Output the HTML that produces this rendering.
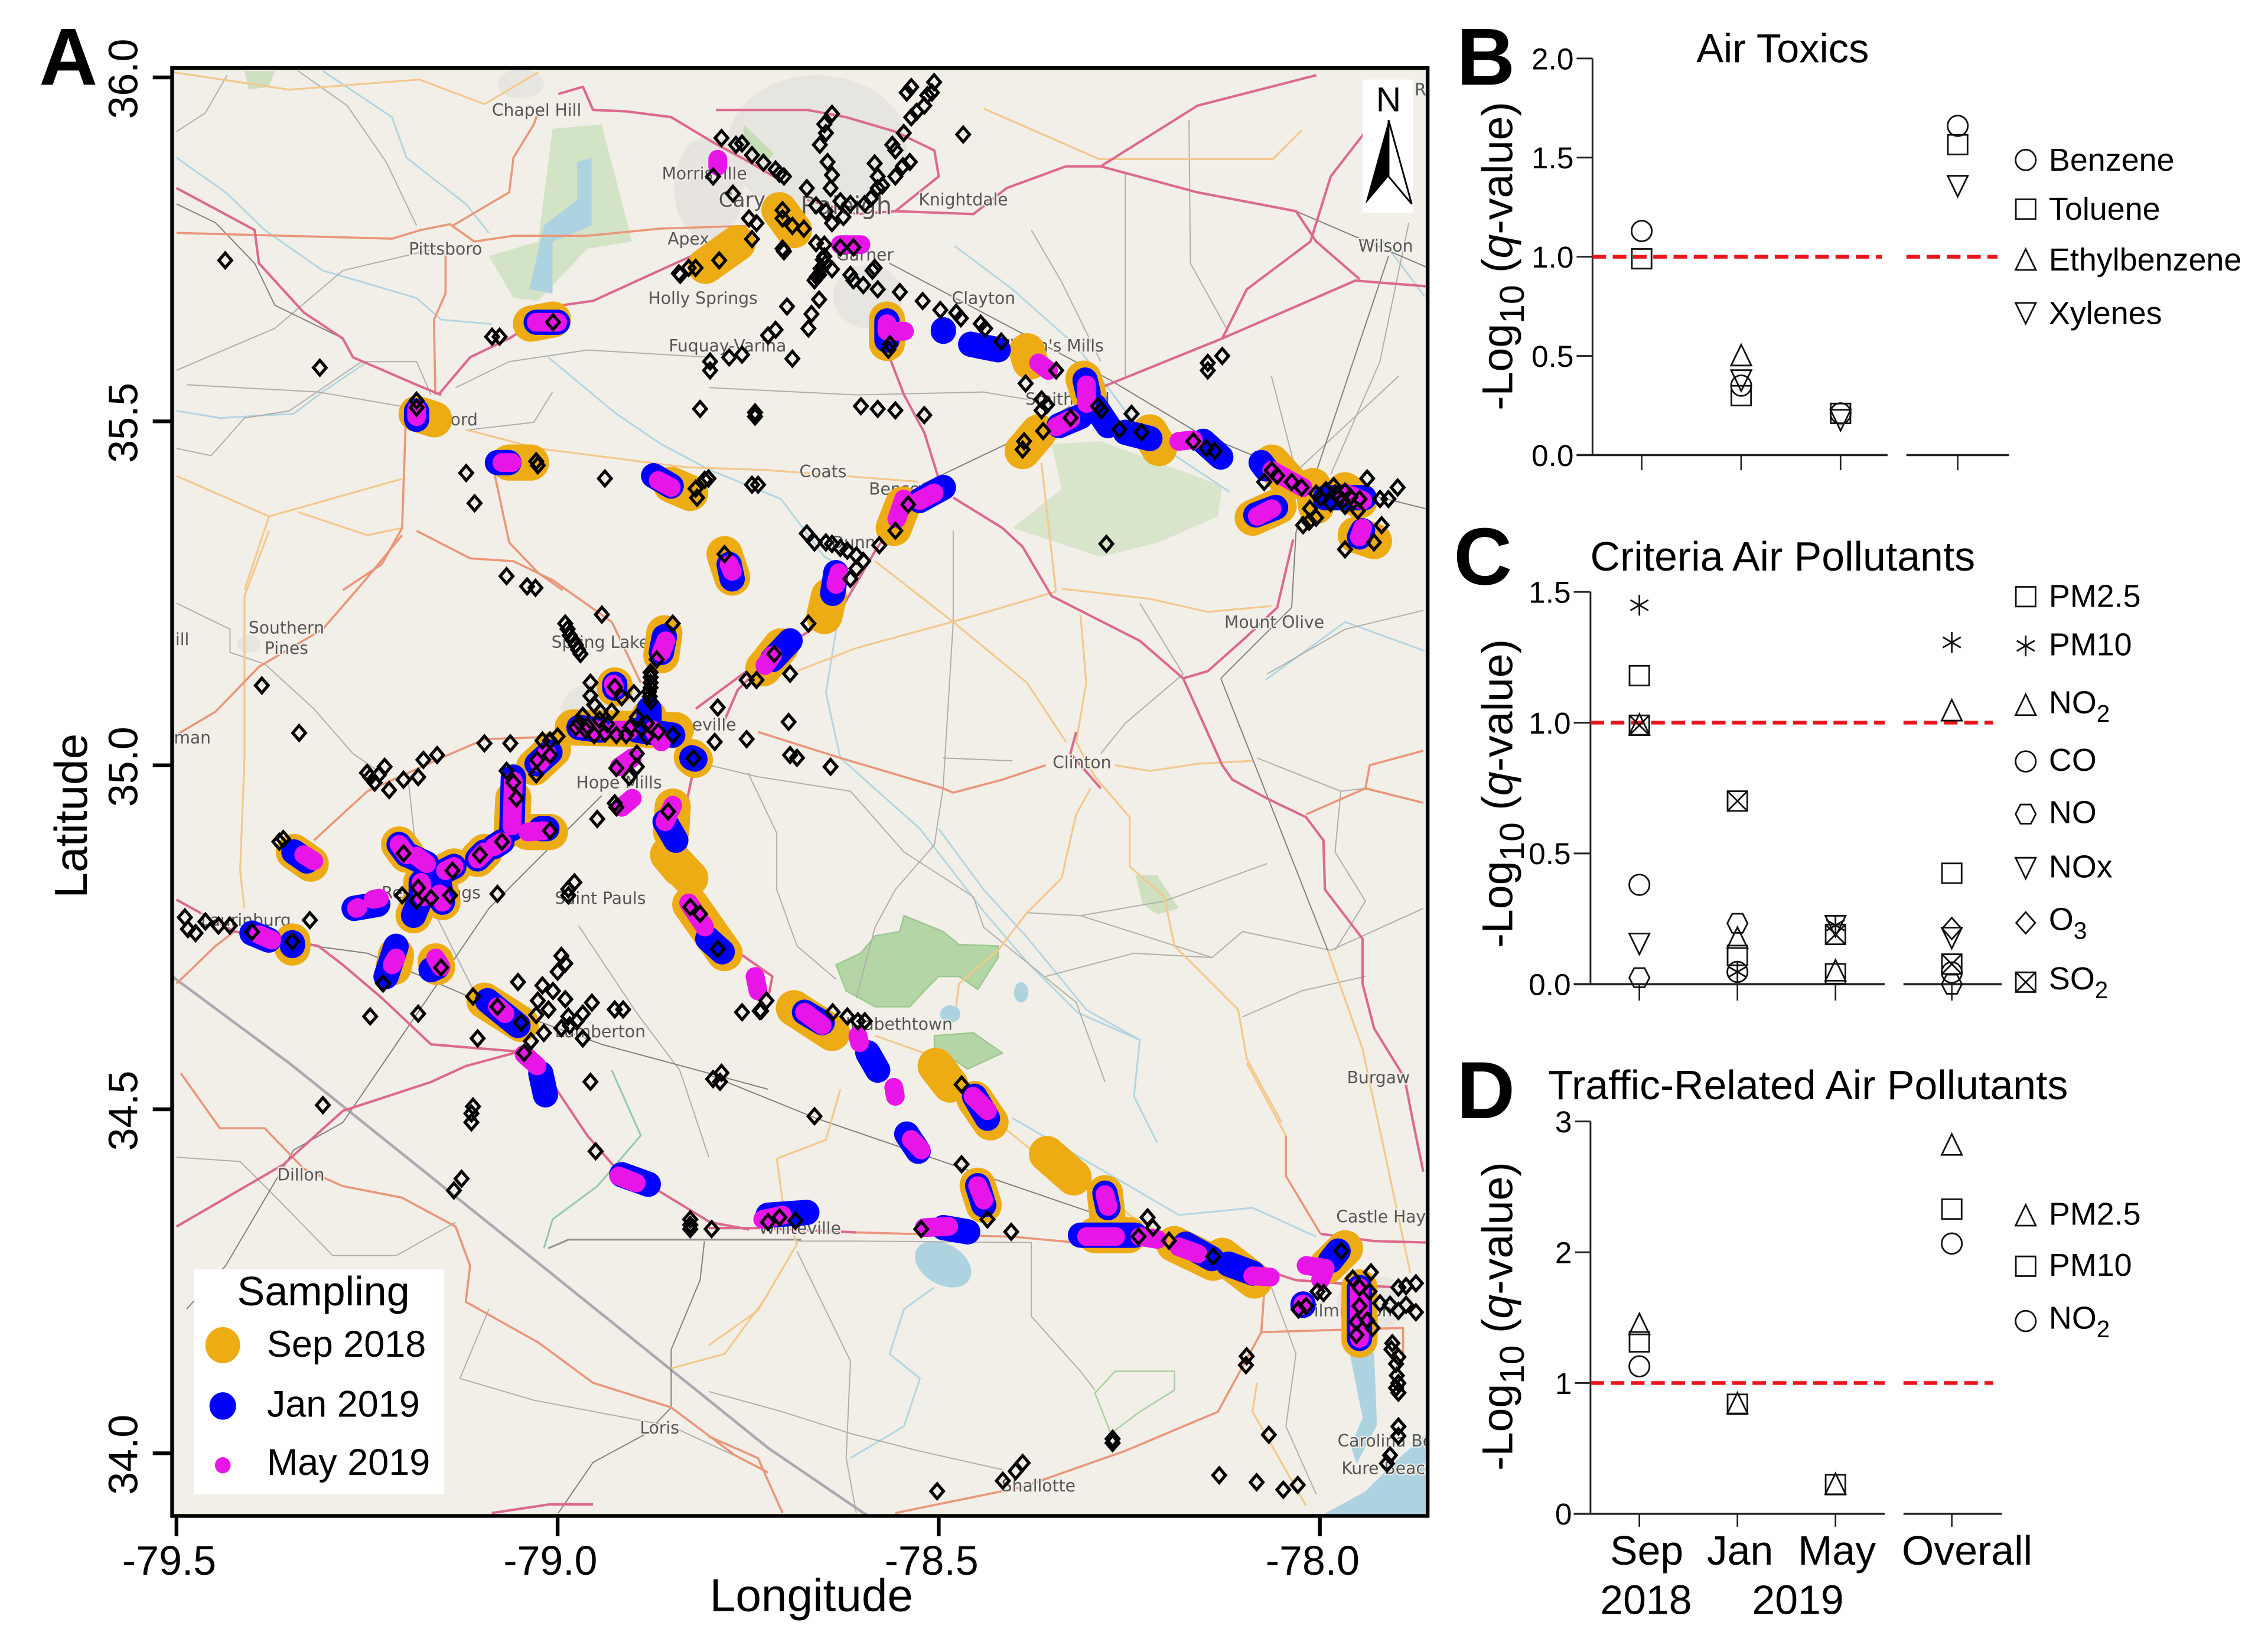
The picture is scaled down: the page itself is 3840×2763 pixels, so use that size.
<!DOCTYPE html>
<html lang="en">
<head>
<meta charset="utf-8">
<title>Air pollutant sampling map and q-value panels</title>
<style>
html,body{margin:0;padding:0;background:#fff}
svg{display:block;font-family:"Liberation Sans",sans-serif}
.m{fill:none;stroke:#dc6a8e;stroke-width:1.7;stroke-linejoin:round}
.o{fill:none;stroke:#e9977a;stroke-width:1.5;stroke-linejoin:round}
.y{fill:none;stroke:#f3c88c;stroke-width:1.3;stroke-linejoin:round}
.g{fill:none;stroke:#aeaeaa;stroke-width:.8;stroke-linejoin:round}
.r{fill:none;stroke:#82807c;stroke-width:.8;stroke-linejoin:round}
.b{fill:none;stroke:#aca9b0;stroke-width:1.9}
.w{fill:none;stroke:#b3d5e0;stroke-width:1.2;stroke-linejoin:round}
.t{fill:none;stroke:#93c6b0;stroke-width:1.2;stroke-linejoin:round}
.pl{font-family:"DejaVu Sans",sans-serif;font-size:11.5px;fill:#555;text-anchor:middle;paint-order:stroke;stroke:#f2efe9;stroke-width:1.6px}
</style>
</head>
<body>
<svg id="figure" xmlns="http://www.w3.org/2000/svg" width="3840" height="2763" viewBox="0 0 1568 1128.25">
<rect width="1568" height="1128.25" fill="#fff"/>
<clipPath id="mapClip"><rect x="119" y="47" width="868" height="1001"/></clipPath>

<g id="mapPanel">
<g clip-path="url(#mapClip)">
<rect x="119" y="47" width="868" height="1001" fill="#f2efe9"/>
<g fill="#d9d7d3" opacity=".42">
<ellipse cx="565" cy="100" rx="62" ry="48"/>
<ellipse cx="490" cy="130" rx="24" ry="36"/>
<ellipse cx="360" cy="58" rx="16" ry="10"/>
<ellipse cx="600" cy="205" rx="24" ry="22"/>
<ellipse cx="420" cy="490" rx="32" ry="20"/>
<ellipse cx="172" cy="445" rx="8" ry="6"/>
<ellipse cx="950" cy="900" rx="26" ry="18"/>
</g>
<g>
<polygon fill="#d3e3c6" points="382,89 416,86 437,167 406,172 372,208 355,206 338,177 372,167"/>
<polygon fill="#d8e5cb" points="727,307 761,305 845,336 842,357 801,375 761,385 700,365 734,338"/>
<polygon fill="#b4d6a6" stroke="#9cc78f" points="625,633 652,644 663,653 690,654 690,662 676,684 663,675 649,675 639,685 629,696 605,696 585,685 578,667 595,659 605,647 622,644"/>
<polygon fill="#b4d6a6" stroke="#9cc78f" points="646,716 673,714 693,728 669,739 646,724"/>
<polygon fill="#c5dcb5" points="514,86 535,106 530,112 514,100"/>
<polygon fill="#cfe0c0" points="169,49 190,49 186,60 172,62"/>
<polygon fill="#cfe0c0" points="785,605 800,605 815,628 800,632 790,625"/>
<polygon fill="none" stroke="#a9cf9d" stroke-width="1" points="757,963 771,948 812,948 812,961 788,976 768,991"/>
</g>
<g fill="#aed3e0">
<polygon points="399,112 409,109 409,156 382,167 382,203 366,200 376,156 399,138"/>
<ellipse cx="652" cy="874" rx="21" ry="14" transform="rotate(30 652 874)"/>
<ellipse cx="706" cy="686" rx="5" ry="7"/>
<ellipse cx="657" cy="701" rx="7" ry="6"/>
<polygon points="913,1048 944,1031 964,1011 990,988 990,1048"/>
<polygon points="933,935 950,935 952,985 938,1012 934,1000 942,980"/>
</g>
<g>
<polyline class="w" points="122,109 156,133 183,159 223,187 288,206 305,221 340,224"/>
<polyline class="w" points="223,49 271,81 281,109 322,141 338,161"/>
<polyline class="w" points="122,284 152,289 203,286 223,271 254,250"/>
<polyline class="w" points="379,247 426,286 457,307 491,325 540,345 570,385 585,393 571,479 581,524 636,573 680,630 710,665 745,700 788,719 784,758 800,790"/>
<polyline class="w" points="649,573 680,615 710,648 751,698 788,719"/>
<polyline class="w" points="646,890 625,905 615,936 636,953 625,986 588,1008"/>
<polyline class="w" points="700,773 781,820 815,840 866,835 910,855"/>
<polyline class="w" points="660,170 700,200 745,240 790,300 850,340"/>
<polyline class="w" points="955,165 985,205"/>
<polyline class="w" points="875,470 930,430 985,450"/>
<polyline class="t" points="376,863 382,843 413,820 443,785 423,740"/>
</g>
<g>
<polyline class="g" points="206,49 240,73 267,112 288,156"/>
<polyline class="g" points="157,52 142,78 122,91"/>
<polyline class="g" points="122,256 190,227 237,187 301,172"/>
<polyline class="g" points="122,310 146,315 169,289 200,284 250,250 288,250 298,273"/>
<polyline class="g" points="129,266 220,271 278,281"/>
<polyline class="g" points="315,268 352,250 406,242 491,247"/>
<polyline class="g" points="382,271 369,292 325,297"/>
<polyline class="g" points="490,268 592,273 680,271 727,279"/>
<polyline class="g" points="778,120 778,260"/>
<polyline class="g" points="822,83 823,182 849,229"/>
<polyline class="g" points="713,159 734,195 761,250"/>
<polyline class="g" points="879,260 896,326 967,260"/>
<polyline class="g" points="920,328 954,250 974,154"/>
<polyline class="g" points="659,367 659,430 652,545 646,584 619,615 605,641 592,690"/>
<polyline class="g" points="517,534 537,576 537,615 551,654 578,677"/>
<polyline class="g" points="490,529 524,537 588,547 625,589 673,620 680,641 744,693 764,748"/>
<polyline class="g" points="652,524 700,526"/>
<polyline class="g" points="710,631 747,633 805,623 876,597"/>
<polyline class="g" points="747,633 838,662 859,644 920,657 984,628"/>
<polyline class="g" points="723,675 784,659 838,662"/>
<polyline class="g" points="859,703 900,685 944,675"/>
<polyline class="g" points="869,524 927,547 944,545"/>
<polyline class="g" points="927,547 923,589 944,623 923,657"/>
<polyline class="g" points="788,417 818,466 778,500 761,521"/>
<polyline class="g" points="876,466 930,435 984,422"/>
<polyline class="g" points="122,800 166,803 193,830 230,868 274,868 315,845"/>
<polyline class="g" points="338,905 318,953 369,968 464,986 518,1011"/>
<polyline class="g" points="551,865 588,941 585,1008 592,1046"/>
<polyline class="g" points="490,962 541,976 588,991 635,1003 693,1016"/>
<polyline class="g" points="551,858 592,858 713,859 713,910 747,948 757,961"/>
<polyline class="g" points="879,890 896,936 889,986 910,1033"/>
<polyline class="g" points="122,417 159,435 159,451 183,459 217,490 244,521 267,537"/>
<polyline class="g" points="282,537 290,610 330,690"/>
<polyline class="g" points="400,640 440,700 470,740 490,800"/>
</g>
<g>
<polyline class="b" points="119,675 200,735 372,873 531,1001 600,1048"/>
<polyline class="b" style="stroke-width:1.2;stroke:#8f8f8c" points="379,863 393,857 531,857 554,857"/>
</g>
<g>
<polyline class="r" points="531,753 416,722 372,706 322,688 254,659 217,654"/>
<polyline class="r" points="490,743 564,773 754,838"/>
<polyline class="r" points="416,550 338,628 237,776 203,795 156,875 129,905"/>
<polyline class="r" points="122,141 149,154 176,182 190,211 237,234"/>
<polyline class="r" points="615,182 700,227 768,263 828,299 910,333 987,352"/>
<polyline class="r" points="844,469 876,550 918,657"/>
<polyline class="r" points="844,469 893,420 896,368 960,177"/>
<polyline class="r" points="464,933 484,885 487,858"/>
<polyline class="r" points="464,933 464,973 447,991 410,1011 386,1046"/>
<polyline class="r" points="635,336 700,305 761,268"/>
<polyline class="r" points="761,115 828,133 896,146 987,185"/>
</g>
<g>
<polyline class="y" points="186,367 169,412 169,524 166,602 169,628"/>
<polyline class="y" points="322,297 372,310 474,323 531,325 635,333"/>
<polyline class="y" points="122,329 186,357 278,331"/>
<polyline class="y" points="186,357 169,408"/>
<polyline class="y" points="206,354 254,370 278,365"/>
<polyline class="y" points="605,388 659,430 710,472 737,513"/>
<polyline class="y" points="730,409 669,427 592,448 551,464"/>
<polyline class="y" points="720,320 730,409"/>
<polyline class="y" points="734,407 795,414 835,423 879,419"/>
<polyline class="y" points="747,425 751,472 744,513 757,537 781,565 781,599 805,620 812,654 856,698 862,732 886,776"/>
<polyline class="y" points="754,545 744,563 734,607 710,631 690,657 663,680 661,696"/>
<polyline class="y" points="771,529 795,533 828,528 866,526"/>
<polyline class="y" points="464,946 501,936 531,895"/>
<polyline class="y" points="537,801 541,830 551,860 524,906 490,930"/>
<polyline class="y" points="581,753 571,788 537,801"/>
<polyline class="y" points="862,735 889,785"/>
<polyline class="y" points="869,956 866,976 903,1041"/>
<polyline class="y" points="680,768 713,795 761,823 781,840 812,858"/>
<polyline class="y" points="605,716 639,728 676,758"/>
<polyline class="y" points="120,50 200,62 290,55 335,72 372,50"/>
<polyline class="y" points="680,75 760,110 880,110 900,90"/>
<polyline class="y" points="918,657 942,725 958,800 975,880"/>
</g>
<g>
<polyline class="o" points="122,161 271,165 291,159 311,155 328,167 355,163 406,163 457,158 521,156"/>
<polyline class="o" points="308,172 308,203 300,221 301,273"/>
<polyline class="o" points="313,156 352,133 355,109 369,86 372,78"/>
<polyline class="o" points="281,276 278,365 264,390 237,408"/>
<polyline class="o" points="342,328 352,375 372,396 389,408"/>
<polyline class="o" points="122,508 149,492 179,461 223,435 250,404 278,370"/>
<polyline class="o" points="217,581 254,547 305,524 335,511 393,509"/>
<polyline class="o" points="162,644 149,654 122,680"/>
<polyline class="o" points="288,367 325,386 355,388 382,401 423,430 443,472"/>
<polyline class="o" points="524,506 581,524 652,545 659,548 693,539 723,529"/>
<polyline class="o" points="903,563 944,545 984,555"/>
<polyline class="o" points="944,545 947,529 984,519"/>
<polyline class="o" points="125,742 152,780 183,780 210,808 237,820 278,828 315,848 325,875 322,900 372,928 410,956 464,973 508,1006 531,1018"/>
<polyline class="o" points="619,1046 707,1028 778,1003 842,976 872,921 874,893"/>
<polyline class="o" points="872,921 970,918 970,936"/>
<polyline class="o" points="490,993 524,1008 541,1046"/>
<polyline class="o" points="889,785 889,813 913,853"/>
<polyline class="o" points="592,852 700,855 744,859 812,858"/>
</g>
<g>
<polyline class="m" points="122,130 176,159 179,182 210,216 237,234 244,247 288,266 305,273"/>
<polyline class="m" points="303,273 325,247 352,234 389,211 410,208 467,182 518,159"/>
<polyline class="m" points="386,65 403,60 410,76 433,77 464,81 494,99 518,112 540,125"/>
<polyline class="m" points="495,76 531,76 558,76 585,81 619,91 646,104 649,122 619,146 592,148 558,138"/>
<polyline class="m" points="619,146 673,148 696,130 737,115 761,115 828,133 896,146 910,167 940,193"/>
<polyline class="m" points="845,234 862,200 906,167 920,122 944,91 970,60"/>
<polyline class="m" points="761,115 828,73 910,52"/>
<polyline class="m" points="761,268 845,234 937,194 987,198"/>
<polyline class="m" points="622,213 615,247 625,273 639,299 649,331"/>
<polyline class="m" points="659,344 693,365 707,378 727,412 788,443 818,469 845,529 852,539 876,552 903,565 915,581 916,615 942,649 942,680 950,711 971,745 977,776 984,810"/>
<polyline class="m" points="894,373 883,420 862,440 835,464 818,469"/>
<polyline class="m" points="635,336 605,381 581,422 534,453 510,477 500,500"/>
<polyline class="m" points="481,490 531,453"/>
<polyline class="m" points="479,534 474,558 474,586 481,628 501,649 507,656 534,675 531,690"/>
<polyline class="m" points="490,849 524,849 592,852"/>
<polyline class="m" points="812,858 896,885 964,890"/>
<polyline class="m" points="426,808 406,785 386,755 372,735 359,727 322,724 298,722 264,690 237,667 220,654 162,644 122,622"/>
<polyline class="m" points="423,808 450,820 491,845 518,850"/>
<polyline class="m" points="122,848 196,805 237,768 298,748 322,737 359,727"/>
<polyline class="m" points="744,506 740,521 761,545"/>
<polyline class="m" points="913,853 950,858 987,859"/>
<polyline class="m" points="340,1046 380,1040 410,1040"/>
</g>
<g>
<text class="pl" x="371" y="80">Chapel Hill</text>
<text class="pl" x="487" y="124">Morrisville</text>
<text class="pl" x="513" y="143" style="font-size:14px">Cary</text>
<text class="pl" x="585" y="148" style="font-size:17px">Raleigh</text>
<text class="pl" x="666" y="142">Knightdale</text>
<text class="pl" x="308" y="176">Pittsboro</text>
<text class="pl" x="958" y="174">Wilson</text>
<text class="pl" x="476" y="169">Apex</text>
<text class="pl" x="486" y="210">Holly Springs</text>
<text class="pl" x="598" y="180">Garner</text>
<text class="pl" x="680" y="210">Clayton</text>
<text class="pl" x="503" y="243">Fuquay-Varina</text>
<text class="pl" x="725" y="243">Wilson's Mills</text>
<text class="pl" x="738" y="280">Smithfield</text>
<text class="pl" x="308" y="294">Sanford</text>
<text class="pl" x="569" y="330">Coats</text>
<text class="pl" x="622" y="342">Benson</text>
<text class="pl" x="590" y="379">Dunn</text>
<text class="pl" x="881" y="434">Mount Olive</text>
<text class="pl" x="198" y="438">Southern</text>
<text class="pl" x="198" y="452">Pines</text>
<text class="pl" x="415" y="448">Spring Lake</text>
<text class="pl" x="476" y="505">Fayetteville</text>
<text class="pl" x="748" y="531">Clinton</text>
<text class="pl" x="428" y="545">Hope Mills</text>
<text class="pl" x="415" y="625">Saint Pauls</text>
<text class="pl" x="298" y="621">Red Springs</text>
<text class="pl" x="170" y="640">Laurinburg</text>
<text class="pl" x="415" y="717">Lumberton</text>
<text class="pl" x="618" y="712">Elizabethtown</text>
<text class="pl" x="953" y="749">Burgaw</text>
<text class="pl" x="208" y="816">Dillon</text>
<text class="pl" x="553" y="853">Whiteville</text>
<text class="pl" x="962" y="845">Castle Hayne</text>
<text class="pl" x="930" y="910">Wilmington</text>
<text class="pl" x="968" y="1000">Carolina Beach</text>
<text class="pl" x="960" y="1019">Kure Beach</text>
<text class="pl" x="718" y="1031">Shallotte</text>
<text class="pl" x="456" y="991">Loris</text>
<text class="pl" x="126" y="446">ill</text>
<text class="pl" x="133" y="514">man</text>
<text class="pl" x="982" y="66">R</text>
</g>
<g id="tracks"></g>
<g id="sites"></g>
</g>

<g>
<rect x="942" y="55" width="35" height="92" fill="#fff"/>
<text x="960" y="77" font-size="24" text-anchor="middle">N</text>
<polygon points="960,83 944,141 960,122" fill="#000"/>
<polygon points="960,83 976,141 960,122" fill="#fff" stroke="#000" stroke-width="1.2"/>
</g>

<g>
<rect x="134" y="877.5" width="173" height="155.5" fill="#fff"/>
<text x="164" y="902.5" font-size="28.6">Sampling</text>
<ellipse cx="154" cy="930" rx="12" ry="12.5" fill="#edac13"/>
<text x="184.5" y="938" font-size="25.7">Sep 2018</text>
<ellipse cx="154" cy="972" rx="9.2" ry="9.5" fill="#0000ff"/>
<text x="184.5" y="979.5" font-size="25.7">Jan 2019</text>
<ellipse cx="154" cy="1013" rx="5.4" ry="5.6" fill="#e815e8"/>
<text x="184.5" y="1019.7" font-size="25.7">May 2019</text>
</g>

<rect x="119" y="47" width="868" height="1001" fill="none" stroke="#000" stroke-width="2.6"/>
<g id="mapAxes"></g>
<text x="27" y="58.6" font-size="56" font-weight="bold">A</text>
<text transform="translate(60 564) rotate(-90)" font-size="32" text-anchor="middle">Latitude</text>
<text x="561" y="1113.7" font-size="32" text-anchor="middle">Longitude</text>
</g>

<g id="panelB">
<text x="1007" y="58.6" font-size="56" font-weight="bold">B</text>
<text x="1232.5" y="43" font-size="28" text-anchor="middle">Air Toxics</text>
<text transform="translate(1045.5 177) rotate(-90)" font-size="30" text-anchor="middle">-Log<tspan font-size="24" dy="8">10</tspan><tspan dy="-8"> (</tspan><tspan font-style="italic">q</tspan>-value)</text>
</g>
<g id="panelC">
<text x="1005" y="404" font-size="56" font-weight="bold">C</text>
<text x="1232.5" y="394.5" font-size="28.5" text-anchor="middle">Criteria Air Pollutants</text>
<text transform="translate(1045.5 548.5) rotate(-90)" font-size="30" text-anchor="middle">-Log<tspan font-size="24" dy="8">10</tspan><tspan dy="-8"> (</tspan><tspan font-style="italic">q</tspan>-value)</text>
</g>
<g id="panelD">
<text x="1007" y="773" font-size="56" font-weight="bold">D</text>
<text x="1250" y="760" font-size="28.5" text-anchor="middle">Traffic-Related Air Pollutants</text>
<text transform="translate(1045.5 910) rotate(-90)" font-size="30" text-anchor="middle">-Log<tspan font-size="24" dy="8">10</tspan><tspan dy="-8"> (</tspan><tspan font-style="italic">q</tspan>-value)</text>
<text x="1138.5" y="1081.8" font-size="28.5" text-anchor="middle">Sep</text>
<text x="1203" y="1081.8" font-size="28.5" text-anchor="middle">Jan</text>
<text x="1270" y="1081.8" font-size="28.5" text-anchor="middle">May</text>
<text x="1360" y="1081.8" font-size="28.5" text-anchor="middle">Overall</text>
<text x="1138" y="1115.7" font-size="28.5" text-anchor="middle">2018</text>
<text x="1243" y="1115.7" font-size="28.5" text-anchor="middle">2019</text>
</g>
</svg>

<script>
// ---------- Map data (longitude, latitude) ----------
const lonTicks=[-79.5,-79.0,-78.5,-78.0];
const latTicks=[36.0,35.5,35.0,34.5,34.0];
const sep2018Tracks=[
[[-79.035,35.642],[-79.006,35.648]],[[-79.185,35.511],[-79.162,35.503]],[[-79.064,35.44],[-79.035,35.44]],
[[-78.851,35.408],[-78.826,35.396]],[[-78.781,35.307],[-78.771,35.273]],[[-78.806,35.726],[-78.764,35.759]],
[[-78.709,35.807],[-78.69,35.778]],[[-78.568,35.648],[-78.568,35.614]],[[-78.384,35.602],[-78.38,35.587]],
[[-78.31,35.562],[-78.304,35.541]],[[-78.39,35.457],[-78.369,35.484]],[[-78.223,35.484],[-78.211,35.461]],
[[-78.063,35.44],[-78.04,35.412]],[[-78.009,35.406],[-78.005,35.377]],[[-77.967,35.4],[-77.948,35.385]],
[[-78.088,35.36],[-78.054,35.377]],[[-77.953,35.335],[-77.929,35.326]],[[-78.547,35.379],[-78.559,35.345]],
[[-78.644,35.246],[-78.65,35.217]],[[-78.73,35.141],[-78.707,35.173]],[[-78.86,35.192],[-78.864,35.16]],
[[-78.925,35.116],[-78.925,35.112]],[[-78.98,35.055],[-78.845,35.051]],[[-78.88,35.07],[-78.88,35.051]],
[[-78.824,35.012],[-78.82,35.008]],[[-79.031,34.997],[-79.006,35.023]],[[-79.058,34.952],[-79.06,34.908]],
[[-79.039,34.903],[-79.01,34.903]],[[-79.208,34.885],[-79.198,34.87]],[[-79.179,34.83],[-79.179,34.805],[-79.189,34.782]],
[[-79.147,34.847],[-79.136,34.853]],[[-79.155,34.826],[-79.151,34.801]],[[-79.105,34.864],[-79.096,34.874]],
[[-79.346,34.874],[-79.324,34.857]],[[-79.348,34.744],[-79.348,34.735]],[[-79.212,34.724],[-79.215,34.707]],
[[-79.16,34.715],[-79.158,34.707]],[[-79.096,34.658],[-79.048,34.624]],[[-78.849,34.94],[-78.851,34.903]],
[[-78.855,34.87],[-78.826,34.836]],[[-78.855,34.87],[-78.84,34.85]],[[-78.826,34.798],[-78.781,34.727]],
[[-78.69,34.647],[-78.64,34.611]],[[-78.504,34.563],[-78.485,34.536]],[[-78.453,34.515],[-78.432,34.481]],
[[-78.358,34.435],[-78.323,34.401]],[[-78.449,34.389],[-78.441,34.361]],[[-78.282,34.378],[-78.278,34.336]],
[[-78.295,34.317],[-78.251,34.317]],[[-78.191,34.304],[-78.14,34.277]],[[-78.128,34.287],[-78.086,34.251]],
[[-77.967,34.298],[-77.99,34.273]],[[-77.948,34.241],[-77.948,34.165]]
];
const jan2019Tracks=[
[[-79.028,35.644],[-79.0,35.644]],[[-79.185,35.515],[-79.185,35.503]],[[-79.079,35.44],[-79.064,35.44]],
[[-78.874,35.421],[-78.851,35.406]],[[-78.775,35.292],[-78.771,35.271]],[[-78.568,35.646],[-78.568,35.618]],
[[-78.494,35.633],[-78.494,35.631]],[[-78.458,35.612],[-78.422,35.604]],[[-78.308,35.56],[-78.304,35.541]],
[[-78.342,35.494],[-78.314,35.507]],[[-78.295,35.522],[-78.278,35.494]],[[-78.255,35.484],[-78.223,35.475]],
[[-78.153,35.471],[-78.13,35.448]],[[-78.077,35.44],[-78.071,35.431]],[[-77.993,35.389],[-77.942,35.389]],
[[-78.084,35.364],[-78.058,35.375]],[[-77.948,35.332],[-77.944,35.341]],[[-78.525,35.385],[-78.494,35.404]],
[[-78.635,35.28],[-78.639,35.25]],[[-78.695,35.181],[-78.718,35.154]],[[-78.86,35.187],[-78.864,35.164]],
[[-78.925,35.118],[-78.925,35.112]],[[-78.88,35.082],[-78.88,35.051]],[[-78.972,35.055],[-78.944,35.051]],
[[-78.896,35.051],[-78.849,35.044]],[[-78.824,35.011],[-78.82,35.009]],[[-79.027,35.002],[-79.01,35.019]],
[[-79.058,34.983],[-79.06,34.908]],[[-79.022,34.908],[-79.014,34.908]],[[-79.208,34.885],[-79.198,34.87]],
[[-79.193,34.868],[-79.172,34.857]],[[-79.179,34.83],[-79.179,34.809],[-79.189,34.782]],[[-79.147,34.847],[-79.136,34.853]],
[[-79.155,34.826],[-79.151,34.801]],[[-79.105,34.864],[-79.096,34.874]],[[-79.083,34.882],[-79.073,34.889]],
[[-79.267,34.792],[-79.236,34.798]],[[-79.346,34.874],[-79.329,34.861]],[[-79.401,34.756],[-79.379,34.746]],
[[-79.348,34.742],[-79.348,34.738]],[[-79.212,34.737],[-79.225,34.693]],[[-79.166,34.703],[-79.158,34.707]],
[[-79.092,34.658],[-79.052,34.622]],[[-79.022,34.552],[-79.016,34.521]],[[-78.859,34.918],[-78.845,34.891]],
[[-78.803,34.748],[-78.784,34.729]],[[-78.676,34.641],[-78.653,34.626]],[[-78.593,34.582],[-78.58,34.557]],
[[-78.453,34.519],[-78.436,34.487]],[[-78.542,34.464],[-78.527,34.439]],[[-78.449,34.389],[-78.441,34.361]],
[[-78.282,34.378],[-78.278,34.357]],[[-78.314,34.317],[-78.242,34.317]],[[-78.176,34.304],[-78.142,34.283]],
[[-78.12,34.275],[-78.088,34.262]],[[-77.976,34.294],[-77.986,34.28]],[[-77.948,34.241],[-77.948,34.167]],
[[-78.022,34.217],[-78.022,34.215]],[[-78.724,34.346],[-78.673,34.35]],[[-78.494,34.328],[-78.462,34.322]],
[[-78.916,34.405],[-78.881,34.391]]
];
const may2019Tracks=[
[[-79.028,35.644],[-79.0,35.644]],[[-79.185,35.517],[-79.185,35.507]],[[-79.073,35.44],[-79.06,35.44]],
[[-78.868,35.414],[-78.851,35.404]],[[-78.775,35.292],[-78.771,35.282]],[[-78.629,35.757],[-78.602,35.757]],
[[-78.568,35.642],[-78.568,35.631],[-78.545,35.631]],[[-78.369,35.585],[-78.356,35.574]],[[-78.306,35.553],[-78.306,35.526]],
[[-78.346,35.492],[-78.327,35.503]],[[-78.185,35.471],[-78.166,35.473]],[[-78.063,35.429],[-78.022,35.404]],
[[-77.967,35.396],[-77.944,35.385]],[[-78.082,35.362],[-78.063,35.373]],[[-77.948,35.332],[-77.944,35.345]],
[[-78.525,35.385],[-78.506,35.396]],[[-78.555,35.358],[-78.546,35.387]],[[-78.631,35.28],[-78.635,35.263]],
[[-78.718,35.16],[-78.728,35.145]],[[-78.858,35.181],[-78.864,35.164]],[[-78.927,35.118],[-78.925,35.112]],
[[-78.972,35.055],[-78.944,35.051]],[[-78.923,35.051],[-78.906,35.051]],[[-78.874,35.051],[-78.864,35.034]],
[[-79.024,35.004],[-79.014,35.017]],[[-78.919,34.998],[-78.902,35.011]],[[-78.902,34.952],[-78.916,34.939]],
[[-79.058,34.977],[-79.06,34.912]],[[-79.039,34.903],[-79.018,34.905]],[[-79.208,34.885],[-79.198,34.87]],
[[-79.185,34.868],[-79.172,34.857]],[[-79.179,34.83],[-79.176,34.809]],[[-79.147,34.847],[-79.136,34.853]],
[[-79.155,34.813],[-79.151,34.801]],[[-79.105,34.864],[-79.096,34.874]],[[-79.083,34.882],[-79.073,34.889]],
[[-79.264,34.792],[-79.262,34.793]],[[-79.242,34.805],[-79.234,34.807]],[[-79.333,34.87],[-79.32,34.861]],
[[-79.392,34.754],[-79.375,34.746]],[[-79.212,34.72],[-79.217,34.71]],[[-79.16,34.72],[-79.153,34.707]],
[[-79.079,34.649],[-79.069,34.639]],[[-79.044,34.58],[-79.027,34.563]],[[-78.849,34.942],[-78.859,34.918]],
[[-78.828,34.8],[-78.807,34.765]],[[-78.741,34.693],[-78.737,34.672]],[[-78.676,34.641],[-78.653,34.622]],
[[-78.606,34.607],[-78.604,34.597]],[[-78.559,34.532],[-78.557,34.519]],[[-78.455,34.519],[-78.436,34.498]],
[[-78.536,34.456],[-78.523,34.441]],[[-78.449,34.389],[-78.441,34.368]],[[-78.282,34.376],[-78.278,34.359]],
[[-78.306,34.315],[-78.268,34.315]],[[-78.236,34.315],[-78.213,34.311]],[[-78.185,34.3],[-78.16,34.29]],
[[-78.088,34.258],[-78.065,34.256]],[[-78.018,34.273],[-77.993,34.269],[-77.999,34.252]],[[-77.948,34.241],[-77.948,34.167]],
[[-78.022,34.217],[-78.022,34.215]],[[-78.731,34.34],[-78.705,34.346]],[[-78.519,34.328],[-78.487,34.33]],
[[-78.92,34.403],[-78.897,34.393]],[[-78.79,35.881],[-78.79,35.871]]
];
const siteCoords=[
[-79.436,35.734],[-79.312,35.578],[-79.086,35.623],[-79.076,35.623],[-79.006,35.644],[-79.185,35.53],[-79.185,35.52],[-79.026,35.436],[-79.028,35.442],[-79.12,35.425],
[-79.109,35.381],[-78.938,35.417],[-78.819,35.402],[-78.817,35.389],[-78.802,35.417],[-78.807,35.415],[-78.745,35.408],[-78.737,35.408],[-78.781,35.307],[-79.067,35.275],
[-79.04,35.26],[-79.029,35.258],[-78.785,35.912],[-78.766,35.902],[-78.758,35.904],[-78.745,35.887],[-78.73,35.876],[-78.796,35.856],[-78.77,35.831],[-78.749,35.795],
[-78.739,35.788],[-78.745,35.765],[-78.788,35.734],[-78.841,35.715],[-78.839,35.713],[-78.828,35.723],[-78.819,35.723],[-78.8,35.587],[-78.8,35.574],[-78.775,35.593],
[-78.758,35.597],[-78.813,35.518],[-78.741,35.513],[-78.741,35.507],[-78.714,35.866],[-78.709,35.86],[-78.703,35.856],[-78.705,35.807],[-78.705,35.795],[-78.692,35.784],
[-78.677,35.78],[-78.705,35.751],[-78.703,35.747],[-78.673,35.839],[-78.661,35.814],[-78.648,35.805],[-78.64,35.788],[-78.625,35.797],[-78.629,35.82],[-78.616,35.816],
[-78.597,35.816],[-78.589,35.824],[-78.58,35.839],[-78.574,35.843],[-78.58,35.856],[-78.584,35.875],[-78.642,35.839],[-78.64,35.858],[-78.646,35.877],[-78.656,35.902],
[-78.648,35.919],[-78.65,35.932],[-78.64,35.947],[-78.557,35.856],[-78.547,35.871],[-78.538,35.877],[-78.557,35.894],[-78.561,35.902],[-78.546,35.919],[-78.536,35.942],
[-78.529,35.95],[-78.519,35.959],[-78.509,35.978],[-78.506,35.993],[-78.542,35.978],[-78.536,35.986],[-78.515,35.974],[-78.468,35.917],[-78.661,35.759],[-78.65,35.757],
[-78.65,35.74],[-78.648,35.73],[-78.64,35.721],[-78.657,35.713],[-78.663,35.705],[-78.629,35.753],[-78.612,35.753],[-78.616,35.713],[-78.612,35.705],[-78.599,35.698],
[-78.584,35.723],[-78.587,35.719],[-78.58,35.692],[-78.551,35.688],[-78.521,35.675],[-78.657,35.677],[-78.699,35.667],[-78.667,35.656],[-78.671,35.635],[-78.714,35.633],
[-78.724,35.625],[-78.692,35.591],[-78.498,35.662],[-78.477,35.658],[-78.471,35.65],[-78.445,35.642],[-78.439,35.635],[-78.418,35.616],[-78.564,35.612],[-78.566,35.604],
[-78.346,35.574],[-78.386,35.555],[-78.365,35.532],[-78.358,35.524],[-78.365,35.516],[-78.388,35.471],[-78.39,35.459],[-78.363,35.486],[-78.327,35.505],[-78.291,35.522],
[-78.287,35.516],[-78.263,35.488],[-78.247,35.511],[-78.234,35.484],[-78.166,35.471],[-78.149,35.461],[-78.138,35.457],[-78.147,35.585],[-78.147,35.574],[-78.128,35.595],
[-78.602,35.522],[-78.58,35.518],[-78.557,35.516],[-78.519,35.509],[-78.54,35.379],[-78.557,35.341],[-78.578,35.32],[-78.673,35.337],[-78.663,35.324],[-78.648,35.324],
[-78.64,35.322],[-78.629,35.316],[-78.62,35.312],[-78.608,35.305],[-78.599,35.297],[-78.608,35.286],[-78.616,35.271],[-78.28,35.322],[-78.063,35.429],[-78.056,35.421],
[-78.073,35.412],[-78.037,35.412],[-78.024,35.404],[-78.005,35.395],[-77.999,35.389],[-77.992,35.4],[-77.982,35.406],[-77.98,35.395],[-77.986,35.381],[-77.967,35.398],
[-77.948,35.387],[-77.938,35.417],[-77.921,35.387],[-77.91,35.387],[-77.898,35.404],[-77.967,35.377],[-77.95,35.37],[-78.013,35.373],[-78.005,35.36],[-78.014,35.354],
[-78.022,35.349],[-77.919,35.349],[-77.929,35.324],[-77.967,35.314],[-79.388,35.116],[-79.339,35.047],[-78.942,35.219],[-78.99,35.206],[-78.984,35.189],[-78.976,35.175],
[-78.97,35.162],[-78.849,35.206],[-78.87,35.154],[-78.878,35.135],[-78.878,35.12],[-78.88,35.107],[-78.79,35.084],[-78.752,35.124],[-78.739,35.124],[-78.957,35.12],
[-78.925,35.114],[-78.957,35.101],[-78.9,35.105],[-78.916,35.099],[-78.952,35.088],[-78.929,35.078],[-78.967,35.072],[-78.944,35.078],[-78.961,35.057],[-78.976,35.055],
[-78.923,35.044],[-78.938,35.046],[-78.952,35.044],[-78.963,35.051],[-78.896,35.07],[-78.91,35.044],[-78.883,35.061],[-78.878,35.093],[-78.868,35.049],[-78.849,35.044],
[-78.883,35.042],[-78.794,35.034],[-78.752,35.038],[-78.822,35.01],[-79.0,35.042],[-79.01,35.036],[-79.02,35.036],[-79.01,35.015],[-79.027,35.008],[-79.028,34.987],
[-79.062,35.032],[-79.096,35.032],[-79.067,34.992],[-79.058,34.975],[-79.054,34.952],[-78.896,35.017],[-78.896,34.998],[-78.906,34.983],[-78.923,34.996],[-78.855,34.933],
[-78.923,34.939],[-78.925,34.945],[-78.948,34.922],[-79.01,34.905],[-79.073,34.889],[-79.102,34.87],[-79.158,35.015],[-79.176,35.008],[-79.183,34.983],[-79.202,34.979],
[-79.221,34.964],[-79.227,34.998],[-79.25,34.989],[-79.24,34.975],[-79.234,34.987],[-79.246,34.983],[-79.365,34.889],[-79.36,34.893],[-79.202,34.872],[-79.138,34.847],
[-79.141,34.811],[-79.166,34.807],[-79.183,34.822],[-79.185,34.803],[-79.204,34.811],[-79.079,34.813],[-78.978,34.83],[-78.986,34.811],[-78.986,34.82],[-78.826,34.794],
[-78.813,34.784],[-78.79,34.733],[-79.325,34.775],[-79.401,34.758],[-79.348,34.744],[-79.489,34.779],[-79.485,34.762],[-79.475,34.756],[-79.462,34.773],[-79.445,34.767],
[-79.43,34.767],[-78.995,34.723],[-79.153,34.706],[-79.229,34.683],[-79.052,34.685],[-79.111,34.664],[-79.079,34.649],[-79.006,34.672],[-79.026,34.658],[-79.012,34.645],
[-79.028,34.637],[-79.048,34.626],[-78.986,34.635],[-78.967,34.639],[-78.925,34.645],[-78.914,34.645],[-78.984,34.622],[-78.995,34.618],[-78.967,34.603],[-79.018,34.611],
[-79.035,34.599],[-79.044,34.582],[-79.105,34.603],[-79.183,34.639],[-79.246,34.635],[-78.758,34.641],[-78.735,34.643],[-78.957,34.54],[-78.796,34.544],[-78.785,34.553],
[-78.787,34.54],[-79.308,34.506],[-79.111,34.504],[-79.113,34.494],[-79.113,34.481],[-78.95,34.439],[-79.126,34.399],[-79.136,34.382],[-78.826,34.34],[-78.826,34.332],
[-78.826,34.326],[-78.798,34.326],[-78.671,35.206],[-78.695,35.133],[-78.716,35.162],[-78.697,35.063],[-78.695,35.015],[-78.686,35.011],[-78.642,34.998],[-78.726,34.658],
[-78.733,34.643],[-78.639,34.641],[-78.62,34.635],[-78.606,34.628],[-78.597,34.628],[-78.47,34.536],[-78.663,34.49],[-78.47,34.42],[-78.436,34.34],[-78.405,34.322],
[-78.724,34.336],[-78.709,34.343],[-78.688,34.338],[-78.523,34.326],[-78.238,34.315],[-78.226,34.343],[-78.219,34.328],[-78.198,34.309],[-78.14,34.286],[-77.972,34.294],
[-77.957,34.254],[-77.933,34.263],[-77.948,34.241],[-77.935,34.235],[-77.921,34.218],[-77.908,34.216],[-77.897,34.207],[-77.887,34.216],[-77.874,34.205],[-77.897,34.241],
[-77.887,34.243],[-77.874,34.247],[-77.948,34.214],[-77.952,34.191],[-77.938,34.193],[-77.931,34.182],[-77.952,34.172],[-78.003,34.235],[-77.995,34.233],[-78.028,34.209],
[-78.018,34.214],[-77.906,34.151],[-77.897,34.14],[-77.899,34.113],[-77.897,34.102],[-77.897,34.088],[-77.897,34.039],[-77.897,34.025],[-77.908,33.997],[-77.912,33.985],
[-78.096,34.141],[-78.097,34.128],[-78.067,34.027],[-78.272,34.015],[-78.272,34.021],[-78.132,33.968],[-78.083,33.958],[-78.048,33.947],[-78.029,33.954],[-78.39,33.986],
[-78.399,33.974],[-78.416,33.96],[-78.502,33.945],
[-78.987,35.198],[-78.98,35.182],[-78.973,35.168],[-78.878,35.128],[-78.878,35.113],[-78.879,35.1],[-78.652,35.735],[-78.655,35.722],[-78.66,35.71],
[-78.935,35.06],[-78.945,35.066],[-78.905,35.055],[-78.89,35.053],[-78.972,35.062],[-78.99,34.712],[-79.0,34.7],[-79.02,34.68],[-78.99,34.66],[-78.975,34.628],
[-78.955,34.655],[-77.975,35.39],[-77.97,35.385],[-77.96,35.39],[-77.905,34.16],[-77.9,34.13],[-77.9,34.095]
];

// ---------- Panel B: Air toxics (Sep, Jan, May, Overall) ----------
const toxicsTicks=[0,0.5,1.0,1.5,2.0];
const toxicsBenzene=[1.13,0.35,0.21,1.66];
const toxicsToluene=[0.99,0.30,0.21,1.565];
const toxicsEthylbenzene=[null,0.50,null,null];
const toxicsXylenes=[null,0.38,0.18,1.36];

// ---------- Panel C: Criteria air pollutants ----------
const criteriaTicks=[0,0.5,1.0,1.5];
const criteriaPM25=[1.18,0.11,0.04,0.424];
const criteriaPM10=[1.449,0.047,0.225,1.307];
const criteriaNO2=[0.99,0.175,0.05,1.044];
const criteriaCO=[0.38,0.047,null,0.045];
const criteriaNO=[0.025,0.233,null,0.0];
const criteriaNOx=[0.157,null,0.225,0.18];
const criteriaO3=[null,null,null,0.213];
const criteriaSO2=[0.99,0.70,0.19,0.077];

// ---------- Panel D: Traffic-related air pollutants ----------
const trafficTicks=[0,1,2,3];
const trafficPM25=[1.445,0.84,0.222,2.817];
const trafficPM10=[1.314,0.837,0.222,2.33];
const trafficNO2=[1.127,null,null,2.066];

const NS='http://www.w3.org/2000/svg';
const xMap=lon=>122+(lon+79.5)*527;
const yMap=lat=>53.5+(36-lat)*475.6;
function make(tag,parent,attrs){
  const e=document.createElementNS(NS,tag);
  for(const k in attrs) e.setAttribute(k,attrs[k]);
  parent.appendChild(e);
  return e;
}

// ---------- Map marks ----------
const tracksG=document.getElementById('tracks');
function drawTracks(tracks,color,width,name){
  tracks.forEach(track=>{
    const d=track.map((p,i)=>(i?'L':'M')+xMap(p[0]).toFixed(1)+' '+yMap(p[1]).toFixed(1)).join('');
    const el=make('path',tracksG,{d:d,fill:'none',stroke:color,'stroke-width':width,'stroke-linecap':'round','stroke-linejoin':'round'});
    
    
  });
}
drawTracks(sep2018Tracks,'#edac13',25,'sep-2018-track');
drawTracks(jan2019Tracks,'#0000ff',17.5,'jan-2019-track');
drawTracks(may2019Tracks,'#e815e8',13,'may-2019-track');

const sitesG=document.getElementById('sites');
siteCoords.forEach(p=>{
  const x=xMap(p[0]),y=yMap(p[1]);
  const el=make('path',sitesG,{d:`M${x.toFixed(1)} ${(y-5.1).toFixed(1)}L${(x+4.4).toFixed(1)} ${y.toFixed(1)}L${x.toFixed(1)} ${(y+5.1).toFixed(1)}L${(x-4.4).toFixed(1)} ${y.toFixed(1)}Z`,fill:'none',stroke:'#000','stroke-width':2.1});
  
  
});

// ---------- Map axes ----------
const mapAxes=document.getElementById('mapAxes');
lonTicks.forEach(t=>{
  const tick=make('line',mapAxes,{x1:xMap(t),x2:xMap(t),y1:1048,y2:1062,stroke:'#000','stroke-width':2.6});
  
  
  const lab=make('text',mapAxes,{x:xMap(t)-5,y:1088.6,'font-size':28.5,'text-anchor':'middle'});
  
  
  lab.textContent=t.toFixed(1);
});
latTicks.forEach(t=>{
  const tick=make('line',mapAxes,{x1:105.6,x2:119,y1:yMap(t),y2:yMap(t),stroke:'#000','stroke-width':2.6});
  
  
  const lab=make('text',mapAxes,{transform:`translate(95 ${yMap(t)+1}) rotate(-90)`,'font-size':28.5,'text-anchor':'middle'});
  
  
  lab.textContent=t.toFixed(1);
});

// ---------- Symbols ----------
function symbol(parent,shape,x,y,name){
  const g=make('g',parent,{transform:`translate(${x.toFixed(1)} ${y.toFixed(1)})`,fill:'none',stroke:'#111','stroke-width':1.15});
  
  
  const square=()=>make('rect',g,{x:-6.8,y:-6.8,width:13.6,height:13.6});
  if(shape==='circle') make('ellipse',g,{rx:7,ry:7.1});
  if(shape==='square') square();
  if(shape==='triangle') make('polygon',g,{points:'0,-7.8 7,6.6 -7,6.6'});
  if(shape==='inverted') make('polygon',g,{points:'-7,-6.6 7,-6.6 0,7.8'});
  if(shape==='diamond') make('polygon',g,{points:'0,-7.4 6.6,0 0,7.4 -6.6,0'});
  if(shape==='hexagon') make('polygon',g,{points:'-3.6,-6.6 3.6,-6.6 7,0 3.6,6.6 -3.6,6.6 -7,0'});
  if(shape==='star') make('path',g,{d:'M0 -7.2V7.2M-6.2 -3.6L6.2 3.6M-6.2 3.6L6.2 -3.6'});
  if(shape==='boxx'){square();make('path',g,{d:'M-6.8 -6.8L6.8 6.8M-6.8 6.8L6.8 -6.8'});}
}

// ---------- Panels ----------
function drawPanel(cfg){
  const root=document.getElementById(cfg.id);
  const y=v=>cfg.y0-v*cfg.unit;
  const xCat=i=>i<3?cfg.catStart+i*cfg.catStep:cfg.catOverall;
  const axisY=make('line',root,{x1:cfg.axisX,x2:cfg.axisX,y1:y(cfg.ticks[cfg.ticks.length-1]),y2:cfg.y0,stroke:'#222','stroke-width':1.2});
  
  
  cfg.ticks.forEach(t=>{
    const tick=make('line',root,{x1:cfg.tickLeft,x2:cfg.axisX,y1:y(t),y2:y(t),stroke:'#222','stroke-width':1.2});
    
    
    const lab=make('text',root,{x:cfg.tickLeft-2,y:y(t)+7.5,'font-size':21,'text-anchor':'end'});
    
    
    lab.textContent=t.toFixed(cfg.decimals);
  });
  cfg.axisSegments.forEach(s=>{
    const seg=make('line',root,{x1:s[0],x2:s[1],y1:cfg.y0,y2:cfg.y0,stroke:'#222','stroke-width':1.5});
    
    
  });
  [0,1,2,3].forEach(i=>{
    const tick=make('line',root,{x1:xCat(i),x2:xCat(i),y1:cfg.y0,y2:cfg.y0+cfg.tickDown,stroke:'#222','stroke-width':1.1});
    
    
  });
  cfg.dashSegments.forEach(s=>{
    const dash=make('line',root,{x1:s[0],x2:s[1],y1:y(1),y2:y(1),stroke:'#e8161c','stroke-width':2.6,'stroke-dasharray':'9.4 4.6'});
    
    
  });
  cfg.series.forEach(s=>{
    s.values.forEach((v,i)=>{
      if(v===null) return;
      symbol(root,s.shape,xCat(i),y(v),'point-'+s.key);
    });
  });
  cfg.series.forEach(s=>{
    symbol(root,s.shape,1400.5,s.legendY,'legend-symbol-'+s.key);
    const lab=make('text',root,{x:1416.5,y:s.labelY,'font-size':22});
    
    
    lab.textContent=s.label;
    if(s.sub){
      const sub=make('tspan',lab,{'font-size':16.5,dy:6});
      
      
      sub.textContent=s.sub;
    }
  });
}
drawPanel({id:'panelB',y0:314.6,unit:137.1,axisX:1101,tickLeft:1090,tickDown:10.5,decimals:1,ticks:toxicsTicks,
  catStart:1135,catStep:68.75,catOverall:1353.5,axisSegments:[[1090,1305],[1318,1389]],dashSegments:[[1101,1301],[1318,1381]],
  series:[
   {key:'ethylbenzene',shape:'triangle',values:toxicsEthylbenzene,label:'Ethylbenzene',legendY:180,labelY:187},
   {key:'xylenes',shape:'inverted',values:toxicsXylenes,label:'Xylenes',legendY:216,labelY:224},
   {key:'toluene',shape:'square',values:toxicsToluene,label:'Toluene',legendY:144.6,labelY:152},
   {key:'benzene',shape:'circle',values:toxicsBenzene,label:'Benzene',legendY:110.6,labelY:118}
  ]});
drawPanel({id:'panelC',y0:680.4,unit:180.8,axisX:1099.6,tickLeft:1088,tickDown:11.3,decimals:1,ticks:criteriaTicks,
  catStart:1133.4,catStep:67.8,catOverall:1349.4,axisSegments:[[1088,1303],[1316,1384]],dashSegments:[[1099.6,1303],[1316,1378]],
  series:[
   {key:'pm25',shape:'square',values:criteriaPM25,label:'PM2.5',legendY:412.5,labelY:419.5},
   {key:'pm10',shape:'star',values:criteriaPM10,label:'PM10',legendY:446.5,labelY:453},
   {key:'no2',shape:'triangle',values:criteriaNO2,label:'NO',sub:'2',legendY:487.8,labelY:493},
   {key:'co',shape:'circle',values:criteriaCO,label:'CO',legendY:526.4,labelY:532.8},
   {key:'no',shape:'hexagon',values:criteriaNO,label:'NO',legendY:562.8,labelY:569},
   {key:'nox',shape:'inverted',values:criteriaNOx,label:'NOx',legendY:599.6,labelY:606.6},
   {key:'o3',shape:'diamond',values:criteriaO3,label:'O',sub:'3',legendY:638,labelY:643},
   {key:'so2',shape:'boxx',values:criteriaSO2,label:'SO',sub:'2',legendY:679,labelY:684}
  ]});
drawPanel({id:'panelD',y0:1046.5,unit:90.4,axisX:1099.6,tickLeft:1088.8,tickDown:9,decimals:0,ticks:trafficTicks,
  catStart:1133.4,catStep:67.8,catOverall:1349.4,axisSegments:[[1088,1303],[1316,1384]],dashSegments:[[1099.6,1303],[1316,1378]],
  series:[
   {key:'pm25',shape:'triangle',values:trafficPM25,label:'PM2.5',legendY:840.7,labelY:846.7},
   {key:'pm10',shape:'square',values:trafficPM10,label:'PM10',legendY:875.4,labelY:882},
   {key:'no2',shape:'circle',values:trafficNO2,label:'NO',sub:'2',legendY:913.3,labelY:918.5}
  ]});
</script>
</body>
</html>
